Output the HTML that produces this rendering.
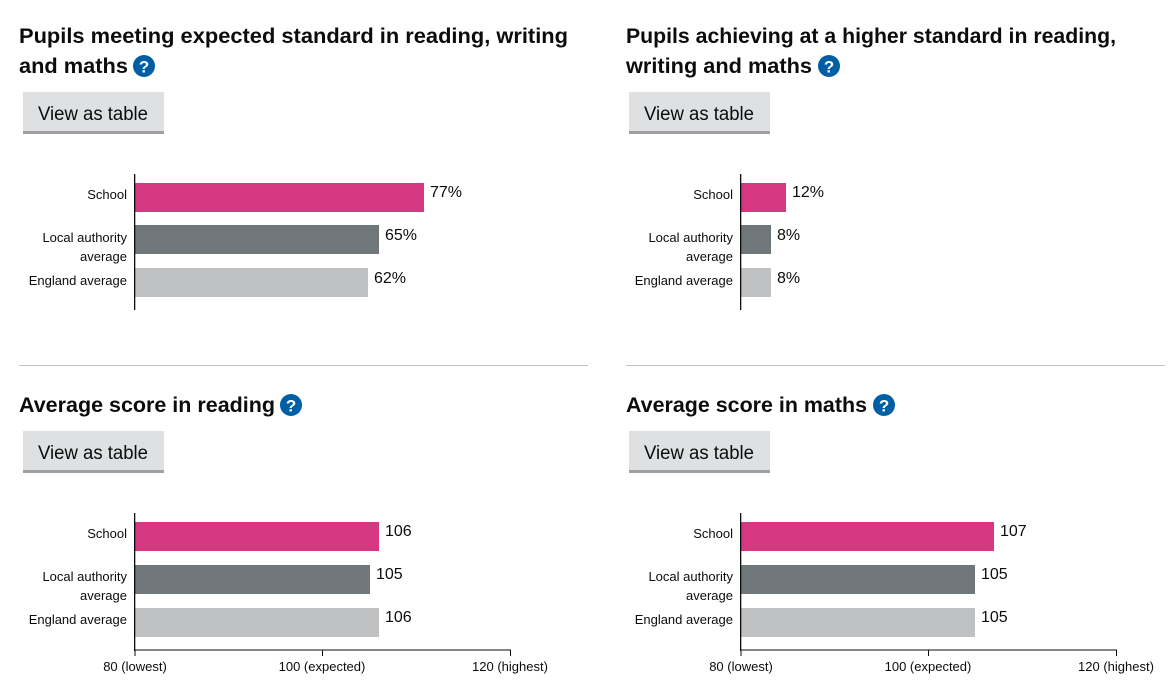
<!DOCTYPE html>
<html><head><meta charset="utf-8"><style>
html,body{margin:0;padding:0;background:#fff;}
svg{display:block;}
</style></head><body>
<svg width="1172" height="695" xmlns="http://www.w3.org/2000/svg" font-family="Liberation Sans, sans-serif">
<defs>
<g id="help"><circle r="11" fill="#005ea5"/><text y="6.5" text-anchor="middle" font-size="17" font-weight="bold" fill="#fff">?</text></g>
</defs>
<rect x="19" y="365" width="569" height="1" fill="#bfc1c3"/>
<rect x="626" y="365" width="539" height="1" fill="#bfc1c3"/>

<g font-weight="bold" font-size="21" fill="#0b0c0c">
<text x="19" y="43" textLength="549" lengthAdjust="spacingAndGlyphs">Pupils meeting expected standard in reading, writing</text>
<text x="19" y="73" textLength="109" lengthAdjust="spacingAndGlyphs">and maths</text>
<text x="626" y="43" textLength="490" lengthAdjust="spacingAndGlyphs">Pupils achieving at a higher standard in reading,</text>
<text x="626" y="73" textLength="186" lengthAdjust="spacingAndGlyphs">writing and maths</text>
<text x="19" y="412" textLength="256" lengthAdjust="spacingAndGlyphs">Average score in reading</text>
<text x="626" y="412" textLength="241" lengthAdjust="spacingAndGlyphs">Average score in maths</text>
</g>
<use href="#help" x="144" y="66"/>
<use href="#help" x="829" y="66"/>
<use href="#help" x="291" y="405"/>
<use href="#help" x="884" y="405"/>

<g font-size="19" fill="#0b0c0c">
<rect x="23" y="92" width="141" height="42" fill="#dee0e2"/><rect x="23" y="131" width="141" height="3" fill="#9ea0a3"/>
<text x="38" y="120" textLength="110" lengthAdjust="spacingAndGlyphs">View as table</text>
<rect x="629" y="92" width="141" height="42" fill="#dee0e2"/><rect x="629" y="131" width="141" height="3" fill="#9ea0a3"/>
<text x="644" y="120" textLength="110" lengthAdjust="spacingAndGlyphs">View as table</text>
<rect x="23" y="431" width="141" height="42" fill="#dee0e2"/><rect x="23" y="470" width="141" height="3" fill="#9ea0a3"/>
<text x="38" y="459" textLength="110" lengthAdjust="spacingAndGlyphs">View as table</text>
<rect x="629" y="431" width="141" height="42" fill="#dee0e2"/><rect x="629" y="470" width="141" height="3" fill="#9ea0a3"/>
<text x="644" y="459" textLength="110" lengthAdjust="spacingAndGlyphs">View as table</text>
</g>

<g>
<rect x="135" y="183" width="289" height="29" fill="#d53880"/>
<rect x="135" y="225" width="244" height="29" fill="#6f777b"/>
<rect x="135" y="268" width="233" height="29" fill="#bfc1c3"/>
<rect x="134" y="174" width="1.3" height="136" fill="#0b0c0c"/>
<g font-size="13" fill="#0b0c0c" text-anchor="end">
<text x="127" y="199">School</text><text x="127" y="242">Local authority</text><text x="127" y="261">average</text><text x="127" y="285">England average</text>
</g>
<g font-size="16" fill="#0b0c0c">
<text x="430" y="197">77%</text><text x="385" y="240">65%</text><text x="374" y="283">62%</text>
</g>
</g>

<g>
<rect x="741" y="183" width="45" height="29" fill="#d53880"/>
<rect x="741" y="225" width="30" height="29" fill="#6f777b"/>
<rect x="741" y="268" width="30" height="29" fill="#bfc1c3"/>
<rect x="740" y="174" width="1.3" height="136" fill="#0b0c0c"/>
<g font-size="13" fill="#0b0c0c" text-anchor="end">
<text x="733" y="199">School</text><text x="733" y="242">Local authority</text><text x="733" y="261">average</text><text x="733" y="285">England average</text>
</g>
<g font-size="16" fill="#0b0c0c">
<text x="792" y="197">12%</text><text x="777" y="240">8%</text><text x="777" y="283">8%</text>
</g>
</g>

<g>
<rect x="135" y="522" width="244" height="29" fill="#d53880"/>
<rect x="135" y="565" width="235" height="29" fill="#6f777b"/>
<rect x="135" y="608" width="244" height="29" fill="#bfc1c3"/>
<rect x="134" y="513" width="1.3" height="138" fill="#0b0c0c"/>
<rect x="134" y="649.5" width="377" height="1" fill="#0b0c0c"/>
<rect x="134.5" y="650" width="1" height="6" fill="#0b0c0c"/>
<rect x="322" y="650" width="1" height="6" fill="#0b0c0c"/>
<rect x="510" y="650" width="1" height="6" fill="#0b0c0c"/>
<g font-size="13" fill="#0b0c0c" text-anchor="end">
<text x="127" y="538">School</text><text x="127" y="581">Local authority</text><text x="127" y="600">average</text><text x="127" y="624">England average</text>
</g>
<g font-size="13" fill="#0b0c0c" text-anchor="middle">
<text x="135" y="671">80 (lowest)</text><text x="322" y="671">100 (expected)</text><text x="510" y="671">120 (highest)</text>
</g>
<g font-size="16" fill="#0b0c0c">
<text x="385" y="536">106</text><text x="376" y="579">105</text><text x="385" y="622">106</text>
</g>
</g>

<g>
<rect x="741" y="522" width="253" height="29" fill="#d53880"/>
<rect x="741" y="565" width="234" height="29" fill="#6f777b"/>
<rect x="741" y="608" width="234" height="29" fill="#bfc1c3"/>
<rect x="740" y="513" width="1.3" height="138" fill="#0b0c0c"/>
<rect x="740" y="649.5" width="377" height="1" fill="#0b0c0c"/>
<rect x="740.5" y="650" width="1" height="6" fill="#0b0c0c"/>
<rect x="928" y="650" width="1" height="6" fill="#0b0c0c"/>
<rect x="1116" y="650" width="1" height="6" fill="#0b0c0c"/>
<g font-size="13" fill="#0b0c0c" text-anchor="end">
<text x="733" y="538">School</text><text x="733" y="581">Local authority</text><text x="733" y="600">average</text><text x="733" y="624">England average</text>
</g>
<g font-size="13" fill="#0b0c0c" text-anchor="middle">
<text x="741" y="671">80 (lowest)</text><text x="928" y="671">100 (expected)</text><text x="1116" y="671">120 (highest)</text>
</g>
<g font-size="16" fill="#0b0c0c">
<text x="1000" y="536">107</text><text x="981" y="579">105</text><text x="981" y="622">105</text>
</g>
</g>
</svg>
</body></html>
